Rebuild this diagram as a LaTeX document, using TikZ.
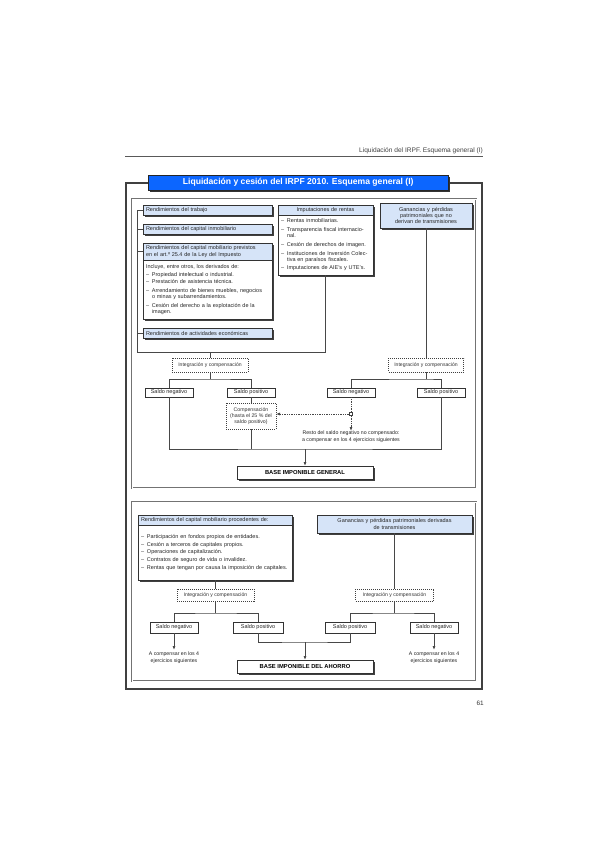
\documentclass[tikz,border=0pt]{standalone}
\usepackage{fontspec}
\setmainfont{Liberation Sans}
\usetikzlibrary{shadows,arrows.meta}
\definecolor{hdrblue}{RGB}{214,228,248}
\definecolor{titleblue}{RGB}{12,102,255}
\newcommand\dl{\makebox[6pt][l]{–}}
\newcommand\ci{\hspace*{6pt}}
\begin{document}
\begin{tikzpicture}[x=1pt,y=-1pt,
  txt/.style={font=\fontsize{5.5}{6.3}\selectfont, text=black!85},
  sh/.style={drop shadow={shadow xshift=1.8pt,shadow yshift=-1.8pt,fill=black!75,opacity=1}},
  hb/.style={txt, sh, draw=black!80, line width=0.5pt, fill=hdrblue, anchor=north west, inner xsep=3pt, inner ysep=0.5pt, outer sep=0pt},
  wb/.style={txt, sh, draw=black!80, line width=0.5pt, fill=white, anchor=north west, inner xsep=3pt, inner ysep=1pt, outer sep=0pt, align=left},
  db/.style={font=\fontsize{5.1}{6}\selectfont, text=black!80, draw=black!75, densely dotted, line width=1pt, fill=white, anchor=north west, inner sep=1pt, outer sep=0pt, align=center},
  sb/.style={txt, draw=black!80, line width=0.5pt, fill=white, anchor=north west, inner sep=0.5pt, outer sep=0pt},
  bb/.style={sh, draw=black!80, line width=0.6pt, fill=white, anchor=north west, inner sep=0.5pt, outer sep=0pt, font=\fontsize{5.8}{6.5}\selectfont\bfseries},
  ln/.style={draw=black!72, line width=0.75pt},
  arr/.style={ln, -{Latex[length=4pt,width=3pt]}},
  note/.style={font=\fontsize{5.2}{6.1}\selectfont, text=black!85, align=center, inner sep=0pt, anchor=north},
  sq/.style={draw=black!75, line width=0.6pt, fill=white, minimum size=3pt, inner sep=0pt}
]
\useasboundingbox (0,0) rectangle (599,848);
\fill[white] (0,0) rectangle (599,848);

% page header
\node[anchor=south east, inner sep=0pt, font=\fontsize{6.6}{7.5}\selectfont, text=black!75] (pghdr) at (483,154) {Liquidación del IRPF. Esquema general (I)};
\draw[black!65, line width=0.6pt] (125,156) -- (483,156);
\node[anchor=north east, inner sep=0pt, font=\fontsize{6.4}{7.5}\selectfont, text=black!80] (pgnum) at (484,701) {61};

% outer frame
\draw[black!75, line width=1.6pt] (126,183) rectangle (482,689);
% panels
\draw[black!55, line width=0.35pt, double=white, double distance=0.9pt] (132,199) rectangle (476,488);
\draw[black!55, line width=0.35pt, double=white, double distance=0.9pt] (132,502) rectangle (476,681);

% title
\node[drop shadow={shadow xshift=2.2pt,shadow yshift=-2.2pt,fill=black!80,opacity=1}, draw=black!85, line width=0.5pt, fill=titleblue, anchor=north west, minimum width=300pt, minimum height=15pt, inner sep=0pt, text=white, font=\fontsize{8.6}{10}\selectfont\bfseries] (title) at (148,175) {Liquidación y cesión del IRPF 2010. Esquema general (I)};

% ---------- upper panel ----------
\node[hb, minimum width=129pt, minimum height=10pt, text width=123pt, align=left] (n1) at (143,205) {Rendimientos del trabajo};
\node[hb, minimum width=129pt, minimum height=10pt, text width=123pt, align=left] (n2) at (143,224) {Rendimientos del capital inmobiliario};
\node[hb, minimum width=129pt, minimum height=17pt, text width=123pt, align=left] (n3h) at (143,243) {Rendimientos del capital mobiliario previstos\\en el art.º 25.4 de la Ley del Impuesto};
\node[wb, minimum width=129pt, minimum height=59pt, text width=123pt] (n3b) at (n3h.south west) {Incluye, entre otros, los derivados de:\\[2pt]
\dl Propiedad intelectual o industrial.\\[1pt]
\dl Prestación de asistencia técnica.\\[2.3pt]
\dl Arrendamiento de bienes muebles, negocios\\ \ci o minas y subarrendamientos.\\[2.3pt]
\dl Cesión del derecho a la explotación de la\\ \ci imagen.};
\node[hb, minimum width=129pt, minimum height=10pt, text width=123pt, align=left] (n4) at (143,328) {Rendimientos de actividades económicas};

\node[hb, minimum width=95pt, minimum height=10pt, text width=89pt, align=center] (imph) at (278,205) {Imputaciones de rentas};
\node[wb, minimum width=95pt, minimum height=60pt, text width=89pt, inner xsep=2pt] (impb) at (imph.south west) {\dl Rentas inmobiliarias.\\[2.3pt]
\dl Transparencia fiscal internacio-\\ \ci nal.\\[2.3pt]
\dl Cesión de derechos de imagen.\\[2.3pt]
\dl Instituciones de Inversión Colec-\\ \ci tiva en paraísos fiscales.\\[2.3pt]
\dl Imputaciones de AIE's y UTE's.};

\node[hb, minimum width=92pt, minimum height=25pt, text width=86pt, align=center] (gan) at (380,203) {Ganancias y pérdidas\\patrimoniales que no\\derivan de transmisiones};

\coordinate (bl) at (137,352);
\draw[ln] (n1.west) -- (n1.west -| bl) -- (bl) -- (bl -| impb.south) -- (impb.south);
\draw[ln] (n2.west) -- (n2.west -| bl);
\draw[ln] (n3h.west) -- (n3h.west -| bl);
\draw[ln] (n4.west) -- (n4.west -| bl);

\node[db, minimum width=76pt, minimum height=14pt] (intL) at (172,358) {Integración y compensación};
\node[db, minimum width=75pt, minimum height=14pt] (intR) at (388.5,358) {Integración y compensación};
\draw[ln] (intL.north) -- (intL.north |- bl);
\draw[ln] (gan.south) -- (gan.south |- intR.north);

\node[sb, minimum width=48pt, minimum height=9pt] (snL) at (145,388) {Saldo negativo};
\node[sb, minimum width=48pt, minimum height=9pt] (spL) at (227,388) {Saldo positivo};
\node[sb, minimum width=48pt, minimum height=9pt] (snR) at (327,388) {Saldo negativo};
\node[sb, minimum width=48pt, minimum height=9pt] (spR) at (417,388) {Saldo positivo};

\coordinate (tL) at (210,379);
\coordinate (tR) at (426,379);
\draw[ln] (intL.south) -- (tL);
\draw[ln] (snL.north) |- (tL) -| (spL.north);
\draw[ln] (intR.south) -- (intR.south |- tR);
\draw[ln] (snR.north) |- (tR) -| (spR.north);

\node[db, minimum width=50pt, minimum height=26pt, font=\fontsize{5.2}{6.1}\selectfont] (comp) at (226,403) {Compensación\\(hasta el 25 \% del\\saldo positivo)};
\draw[ln] (spL.south) -- (comp.north);

\node[sq] (sq) at (351,414) {};
\draw[ln, densely dotted] (snR.south) -- (sq.north);
\draw[ln, densely dotted, -{Latex[length=4pt,width=3pt]}] (sq.west) -- (sq.west -| comp.east);
\node[note] (resto) at (351,431) {Resto del saldo negativo no compensado:\\a compensar en los 4 ejercicios siguientes};
\draw[ln, densely dotted, -{Latex[length=4pt,width=3pt]}] (sq.south) -- (resto.north);

\node[bb, minimum width=136pt, minimum height=13pt] (big1) at (237,466) {BASE IMPONIBLE GENERAL};
\coordinate (bot) at (305,449);
\draw[ln] (snL.south) |- (bot) -| (spR.south);
\draw[ln] (comp.south) -- (comp.south |- bot);
\draw[arr] (bot) -- (big1.north);

% ---------- lower panel ----------
\node[hb, minimum width=154pt, minimum height=10pt, text width=148pt, align=left] (lbh) at (138,515) {Rendimientos del capital mobiliario procedentes de:};
\node[wb, minimum width=154pt, minimum height=55pt, text width=148pt] (lbb) at (lbh.south west) {\dl Participación en fondos propios de entidades.\\[1.6pt]
\dl Cesión a terceros de capitales propios.\\[1.6pt]
\dl Operaciones de capitalización.\\[1.6pt]
\dl Contratos de seguro de vida o invalidez.\\[1.6pt]
\dl Rentas que tengan por causa la imposición de capitales.};
\node[hb, minimum width=155pt, minimum height=18pt, text width=149pt, align=center] (rb) at (317,515) {Ganancias y pérdidas patrimoniales derivadas\\de transmisiones};

\node[db, minimum width=77pt, minimum height=12pt] (intL2) at (177,589) {Integración y compensación};
\node[db, minimum width=78pt, minimum height=12pt] (intR2) at (355.5,589) {Integración y compensación};
\draw[ln] (lbb.south) -- (lbb.south |- intL2.north);
\draw[ln] (rb.south) -- (rb.south |- intR2.north);

\node[sb, minimum width=48pt, minimum height=11pt] (snL2) at (150,622) {Saldo negativo};
\node[sb, minimum width=50pt, minimum height=11pt] (spL2) at (233,622) {Saldo positivo};
\node[sb, minimum width=50pt, minimum height=11pt] (spR2) at (325,622) {Saldo positivo};
\node[sb, minimum width=48pt, minimum height=11pt] (snR2) at (410,622) {Saldo negativo};

\coordinate (tL2) at (215.5,613);
\coordinate (tR2) at (394.5,613);
\draw[ln] (intL2.south) -- (tL2);
\draw[ln] (snL2.north) |- (tL2) -| (spL2.north);
\draw[ln] (intR2.south) -- (tR2);
\draw[ln] (spR2.north) |- (tR2) -| (snR2.north);

\draw[arr] (snL2.south) -- ++(0,17) coordinate (aL2);
\node[note] (cL2) at (174,652) {A compensar en los 4\\ejercicios siguientes};
\draw[arr] (snR2.south) -- ++(0,17) coordinate (aR2);
\node[note] (cR2) at (434,652) {A compensar en los 4\\ejercicios siguientes};

\node[bb, minimum width=136pt, minimum height=13pt] (big2) at (237,660) {BASE IMPONIBLE DEL AHORRO};
\coordinate (bot2) at (305,642);
\draw[ln] (spL2.south) |- (bot2) -| (spR2.south);
\draw[arr] (bot2) -- (big2.north);
\end{tikzpicture}
\end{document}
